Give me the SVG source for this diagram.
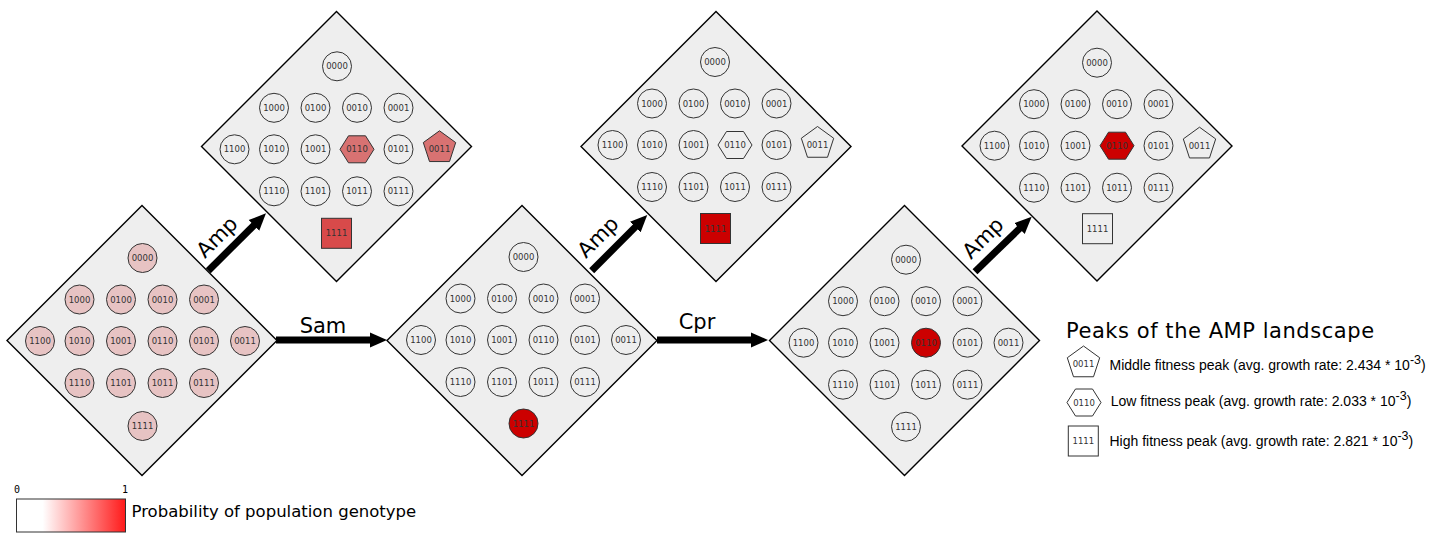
<svg xmlns="http://www.w3.org/2000/svg" xmlns:xlink="http://www.w3.org/1999/xlink" width="1444" height="534" viewBox="0 0 1444 534">
<style>
.dia{fill:#eeeeee;stroke:#000;stroke-width:1.4}
.gt{fill:none;stroke:#333;stroke-width:1}
.pk{fill:#e7c3c3}
.p2{fill:#d87272}
.p3{fill:#d84a4a}
.red{fill:#cc0000}
.wh{fill:#fff}
.lb{font-family:"DejaVu Sans",sans-serif;font-size:8.5px;fill:#333;text-anchor:middle}
.al{font-family:"DejaVu Sans",sans-serif;font-size:21px;fill:#000;text-anchor:middle}
.arr{stroke:#000;stroke-width:7;fill:none;marker-end:url(#ah)}
.lg{font-family:"Liberation Sans",Arial,sans-serif;font-size:14px;fill:#000}
.sup{font-size:12.5px}
</style>
<defs>
<marker id="ah" markerUnits="userSpaceOnUse" viewBox="0 0 17 16" markerWidth="17" markerHeight="16" refX="7" refY="8" orient="auto">
<path d="M0,0.5 L17,8 L0,15.5 Z" fill="#000"/>
</marker>
<polygon id="hex" points="-17,0 -8.5,-13.5 8.5,-13.5 17,0 8.5,13.5 -8.5,13.5"/>
<polygon id="pent" points="0,-18.5 16.2,-6.75 10,12.25 -10,12.25 -16.2,-6.75"/>
<rect id="sq" x="-15" y="-15" width="30" height="30"/>
<linearGradient id="cb" x1="0" y1="0" x2="1" y2="0">
<stop offset="0" stop-color="#ffffff"/>
<stop offset="0.24" stop-color="#ffffff"/>
<stop offset="1" stop-color="#ff1a1a"/>
</linearGradient>
</defs>

<g id="connectors">
<line class="arr" x1="208.3" y1="270.7" x2="258.9" y2="220.4"/>
<text class="al" transform="translate(222,242) rotate(-45)">Amp</text>
<line class="arr" x1="276" y1="340" x2="377" y2="340"/>
<text class="al" x="323" y="333">Sam</text>
<line class="arr" x1="591.7" y1="270.7" x2="640.2" y2="222.1"/>
<text class="al" transform="translate(603,242) rotate(-45)">Amp</text>
<line class="arr" x1="657" y1="340" x2="758" y2="340"/>
<text class="al" x="697" y="329">Cpr</text>
<line class="arr" x1="975" y1="271.7" x2="1024.5" y2="223.7"/>
<text class="al" transform="translate(988,243) rotate(-45)">Amp</text>
</g>

<!-- Landscape 1 -->
<g id="landscape-1" transform="translate(142,340.5)">
<polygon class="dia" points="0,-135 135,0 0,135 -135,0"/>
<g transform="translate(0,0.5)">
<g id="l1-0000"><circle class="gt pk" cx="0.5" cy="-83" r="14.5"/><text class="lb" x="0.5" y="-80">0000</text></g>
<g id="l1-1000"><circle class="gt pk" cx="-62.5" cy="-41.5" r="14.5"/><text class="lb" x="-62.5" y="-38.5">1000</text></g>
<g id="l1-0100"><circle class="gt pk" cx="-21" cy="-41.5" r="14.5"/><text class="lb" x="-21" y="-38.5">0100</text></g>
<g id="l1-0010"><circle class="gt pk" cx="20.5" cy="-41.5" r="14.5"/><text class="lb" x="20.5" y="-38.5">0010</text></g>
<g id="l1-0001"><circle class="gt pk" cx="62" cy="-41.5" r="14.5"/><text class="lb" x="62" y="-38.5">0001</text></g>
<g id="l1-1100"><circle class="gt pk" cx="-102" cy="0" r="14.5"/><text class="lb" x="-102" y="3">1100</text></g>
<g id="l1-1010"><circle class="gt pk" cx="-62.5" cy="0" r="14.5"/><text class="lb" x="-62.5" y="3">1010</text></g>
<g id="l1-1001"><circle class="gt pk" cx="-21" cy="0" r="14.5"/><text class="lb" x="-21" y="3">1001</text></g>
<g id="l1-0110"><circle class="gt pk" cx="20.5" cy="0" r="14.5"/><text class="lb" x="20.5" y="3">0110</text></g>
<g id="l1-0101"><circle class="gt pk" cx="62" cy="0" r="14.5"/><text class="lb" x="62" y="3">0101</text></g>
<g id="l1-0011"><circle class="gt pk" cx="103" cy="0" r="14.5"/><text class="lb" x="103" y="3">0011</text></g>
<g id="l1-1110"><circle class="gt pk" cx="-62.5" cy="42" r="14.5"/><text class="lb" x="-62.5" y="45">1110</text></g>
<g id="l1-1101"><circle class="gt pk" cx="-21" cy="42" r="14.5"/><text class="lb" x="-21" y="45">1101</text></g>
<g id="l1-1011"><circle class="gt pk" cx="20.5" cy="42" r="14.5"/><text class="lb" x="20.5" y="45">1011</text></g>
<g id="l1-0111"><circle class="gt pk" cx="62" cy="42" r="14.5"/><text class="lb" x="62" y="45">0111</text></g>
<g id="l1-1111"><circle class="gt pk" cx="0.5" cy="85" r="14.5"/><text class="lb" x="0.5" y="88">1111</text></g>
</g>
</g>

<!-- Landscape 2 -->
<g id="landscape-2" transform="translate(336.5,146.5)">
<polygon class="dia" points="0,-135 135,0 0,135 -135,0"/>
<g transform="translate(0,2.8)">
<g id="l2-0000"><circle class="gt" cx="0.5" cy="-83" r="14.5"/><text class="lb" x="0.5" y="-80">0000</text></g>
<g id="l2-1000"><circle class="gt" cx="-62.5" cy="-41.5" r="14.5"/><text class="lb" x="-62.5" y="-38.5">1000</text></g>
<g id="l2-0100"><circle class="gt" cx="-21" cy="-41.5" r="14.5"/><text class="lb" x="-21" y="-38.5">0100</text></g>
<g id="l2-0010"><circle class="gt" cx="20.5" cy="-41.5" r="14.5"/><text class="lb" x="20.5" y="-38.5">0010</text></g>
<g id="l2-0001"><circle class="gt" cx="62" cy="-41.5" r="14.5"/><text class="lb" x="62" y="-38.5">0001</text></g>
<g id="l2-1100"><circle class="gt" cx="-102" cy="0" r="14.5"/><text class="lb" x="-102" y="3">1100</text></g>
<g id="l2-1010"><circle class="gt" cx="-62.5" cy="0" r="14.5"/><text class="lb" x="-62.5" y="3">1010</text></g>
<g id="l2-1001"><circle class="gt" cx="-21" cy="0" r="14.5"/><text class="lb" x="-21" y="3">1001</text></g>
<g id="l2-0110"><use xlink:href="#hex" class="gt p2" x="20.5" y="0"/><text class="lb" x="20.5" y="3">0110</text></g>
<g id="l2-0101"><circle class="gt" cx="62" cy="0" r="14.5"/><text class="lb" x="62" y="3">0101</text></g>
<g id="l2-0011"><use xlink:href="#pent" class="gt p2" x="103" y="0"/><text class="lb" x="103" y="3">0011</text></g>
<g id="l2-1110"><circle class="gt" cx="-62.5" cy="42" r="14.5"/><text class="lb" x="-62.5" y="45">1110</text></g>
<g id="l2-1101"><circle class="gt" cx="-21" cy="42" r="14.5"/><text class="lb" x="-21" y="45">1101</text></g>
<g id="l2-1011"><circle class="gt" cx="20.5" cy="42" r="14.5"/><text class="lb" x="20.5" y="45">1011</text></g>
<g id="l2-0111"><circle class="gt" cx="62" cy="42" r="14.5"/><text class="lb" x="62" y="45">0111</text></g>
<g id="l2-1111"><use xlink:href="#sq" class="gt p3" x="0" y="84"/><text class="lb" x="0" y="87">1111</text></g>
</g>
</g>

<!-- Landscape 3 -->
<g id="landscape-3" transform="translate(522,340.5)">
<polygon class="dia" points="0,-135 135,0 0,135 -135,0"/>
<g transform="translate(1,-0.5)">
<g id="l3-0000"><circle class="gt" cx="0.5" cy="-83" r="14.5"/><text class="lb" x="0.5" y="-80">0000</text></g>
<g id="l3-1000"><circle class="gt" cx="-62.5" cy="-41.5" r="14.5"/><text class="lb" x="-62.5" y="-38.5">1000</text></g>
<g id="l3-0100"><circle class="gt" cx="-21" cy="-41.5" r="14.5"/><text class="lb" x="-21" y="-38.5">0100</text></g>
<g id="l3-0010"><circle class="gt" cx="20.5" cy="-41.5" r="14.5"/><text class="lb" x="20.5" y="-38.5">0010</text></g>
<g id="l3-0001"><circle class="gt" cx="62" cy="-41.5" r="14.5"/><text class="lb" x="62" y="-38.5">0001</text></g>
<g id="l3-1100"><circle class="gt" cx="-102" cy="0" r="14.5"/><text class="lb" x="-102" y="3">1100</text></g>
<g id="l3-1010"><circle class="gt" cx="-62.5" cy="0" r="14.5"/><text class="lb" x="-62.5" y="3">1010</text></g>
<g id="l3-1001"><circle class="gt" cx="-21" cy="0" r="14.5"/><text class="lb" x="-21" y="3">1001</text></g>
<g id="l3-0110"><circle class="gt" cx="20.5" cy="0" r="14.5"/><text class="lb" x="20.5" y="3">0110</text></g>
<g id="l3-0101"><circle class="gt" cx="62" cy="0" r="14.5"/><text class="lb" x="62" y="3">0101</text></g>
<g id="l3-0011"><circle class="gt" cx="103" cy="0" r="14.5"/><text class="lb" x="103" y="3">0011</text></g>
<g id="l3-1110"><circle class="gt" cx="-62.5" cy="42" r="14.5"/><text class="lb" x="-62.5" y="45">1110</text></g>
<g id="l3-1101"><circle class="gt" cx="-21" cy="42" r="14.5"/><text class="lb" x="-21" y="45">1101</text></g>
<g id="l3-1011"><circle class="gt" cx="20.5" cy="42" r="14.5"/><text class="lb" x="20.5" y="45">1011</text></g>
<g id="l3-0111"><circle class="gt" cx="62" cy="42" r="14.5"/><text class="lb" x="62" y="45">0111</text></g>
<g id="l3-1111"><circle class="gt red" cx="0.5" cy="83.5" r="14.5"/><text class="lb" x="0.5" y="86.5">1111</text></g>
</g>
</g>

<!-- Landscape 4 -->
<g id="landscape-4" transform="translate(716,146.5)">
<polygon class="dia" points="0,-135 135,0 0,135 -135,0"/>
<g transform="translate(-1.5,-1.5)">
<g id="l4-0000"><circle class="gt" cx="0.5" cy="-83" r="14.5"/><text class="lb" x="0.5" y="-80">0000</text></g>
<g id="l4-1000"><circle class="gt" cx="-62.5" cy="-41.5" r="14.5"/><text class="lb" x="-62.5" y="-38.5">1000</text></g>
<g id="l4-0100"><circle class="gt" cx="-21" cy="-41.5" r="14.5"/><text class="lb" x="-21" y="-38.5">0100</text></g>
<g id="l4-0010"><circle class="gt" cx="20.5" cy="-41.5" r="14.5"/><text class="lb" x="20.5" y="-38.5">0010</text></g>
<g id="l4-0001"><circle class="gt" cx="62" cy="-41.5" r="14.5"/><text class="lb" x="62" y="-38.5">0001</text></g>
<g id="l4-1100"><circle class="gt" cx="-102" cy="0" r="14.5"/><text class="lb" x="-102" y="3">1100</text></g>
<g id="l4-1010"><circle class="gt" cx="-62.5" cy="0" r="14.5"/><text class="lb" x="-62.5" y="3">1010</text></g>
<g id="l4-1001"><circle class="gt" cx="-21" cy="0" r="14.5"/><text class="lb" x="-21" y="3">1001</text></g>
<g id="l4-0110"><use xlink:href="#hex" class="gt" x="20.5" y="0"/><text class="lb" x="20.5" y="3">0110</text></g>
<g id="l4-0101"><circle class="gt" cx="62" cy="0" r="14.5"/><text class="lb" x="62" y="3">0101</text></g>
<g id="l4-0011"><use xlink:href="#pent" class="gt" x="103" y="0"/><text class="lb" x="103" y="3">0011</text></g>
<g id="l4-1110"><circle class="gt" cx="-62.5" cy="42" r="14.5"/><text class="lb" x="-62.5" y="45">1110</text></g>
<g id="l4-1101"><circle class="gt" cx="-21" cy="42" r="14.5"/><text class="lb" x="-21" y="45">1101</text></g>
<g id="l4-1011"><circle class="gt" cx="20.5" cy="42" r="14.5"/><text class="lb" x="20.5" y="45">1011</text></g>
<g id="l4-0111"><circle class="gt" cx="62" cy="42" r="14.5"/><text class="lb" x="62" y="45">0111</text></g>
<g id="l4-1111"><use xlink:href="#sq" class="gt red" x="1" y="83.5"/><text class="lb" x="1" y="86.5">1111</text></g>
</g>
</g>

<!-- Landscape 5 -->
<g id="landscape-5" transform="translate(904.5,340.5)">
<polygon class="dia" points="0,-135 135,0 0,135 -135,0"/>
<g transform="translate(1,2.2)">
<g id="l5-0000"><circle class="gt" cx="0.5" cy="-83" r="14.5"/><text class="lb" x="0.5" y="-80">0000</text></g>
<g id="l5-1000"><circle class="gt" cx="-62.5" cy="-41.5" r="14.5"/><text class="lb" x="-62.5" y="-38.5">1000</text></g>
<g id="l5-0100"><circle class="gt" cx="-21" cy="-41.5" r="14.5"/><text class="lb" x="-21" y="-38.5">0100</text></g>
<g id="l5-0010"><circle class="gt" cx="20.5" cy="-41.5" r="14.5"/><text class="lb" x="20.5" y="-38.5">0010</text></g>
<g id="l5-0001"><circle class="gt" cx="62" cy="-41.5" r="14.5"/><text class="lb" x="62" y="-38.5">0001</text></g>
<g id="l5-1100"><circle class="gt" cx="-102" cy="0" r="14.5"/><text class="lb" x="-102" y="3">1100</text></g>
<g id="l5-1010"><circle class="gt" cx="-62.5" cy="0" r="14.5"/><text class="lb" x="-62.5" y="3">1010</text></g>
<g id="l5-1001"><circle class="gt" cx="-21" cy="0" r="14.5"/><text class="lb" x="-21" y="3">1001</text></g>
<g id="l5-0110"><circle class="gt red" cx="20.5" cy="0" r="14.5"/><text class="lb" x="20.5" y="3">0110</text></g>
<g id="l5-0101"><circle class="gt" cx="62" cy="0" r="14.5"/><text class="lb" x="62" y="3">0101</text></g>
<g id="l5-0011"><circle class="gt" cx="103" cy="0" r="14.5"/><text class="lb" x="103" y="3">0011</text></g>
<g id="l5-1110"><circle class="gt" cx="-62.5" cy="42" r="14.5"/><text class="lb" x="-62.5" y="45">1110</text></g>
<g id="l5-1101"><circle class="gt" cx="-21" cy="42" r="14.5"/><text class="lb" x="-21" y="45">1101</text></g>
<g id="l5-1011"><circle class="gt" cx="20.5" cy="42" r="14.5"/><text class="lb" x="20.5" y="45">1011</text></g>
<g id="l5-0111"><circle class="gt" cx="62" cy="42" r="14.5"/><text class="lb" x="62" y="45">0111</text></g>
<g id="l5-1111"><circle class="gt" cx="0.5" cy="84" r="14.5"/><text class="lb" x="0.5" y="87">1111</text></g>
</g>
</g>

<!-- Landscape 6 -->
<g id="landscape-6" transform="translate(1097,146)">
<polygon class="dia" points="0,-135 135,0 0,135 -135,0"/>
<g transform="translate(-0.5,-0.3)">
<g id="l6-0000"><circle class="gt" cx="0.5" cy="-83" r="14.5"/><text class="lb" x="0.5" y="-80">0000</text></g>
<g id="l6-1000"><circle class="gt" cx="-62.5" cy="-41.5" r="14.5"/><text class="lb" x="-62.5" y="-38.5">1000</text></g>
<g id="l6-0100"><circle class="gt" cx="-21" cy="-41.5" r="14.5"/><text class="lb" x="-21" y="-38.5">0100</text></g>
<g id="l6-0010"><circle class="gt" cx="20.5" cy="-41.5" r="14.5"/><text class="lb" x="20.5" y="-38.5">0010</text></g>
<g id="l6-0001"><circle class="gt" cx="62" cy="-41.5" r="14.5"/><text class="lb" x="62" y="-38.5">0001</text></g>
<g id="l6-1100"><circle class="gt" cx="-102" cy="0" r="14.5"/><text class="lb" x="-102" y="3">1100</text></g>
<g id="l6-1010"><circle class="gt" cx="-62.5" cy="0" r="14.5"/><text class="lb" x="-62.5" y="3">1010</text></g>
<g id="l6-1001"><circle class="gt" cx="-21" cy="0" r="14.5"/><text class="lb" x="-21" y="3">1001</text></g>
<g id="l6-0110"><use xlink:href="#hex" class="gt red" x="20.5" y="0"/><text class="lb" x="20.5" y="3">0110</text></g>
<g id="l6-0101"><circle class="gt" cx="62" cy="0" r="14.5"/><text class="lb" x="62" y="3">0101</text></g>
<g id="l6-0011"><use xlink:href="#pent" class="gt" x="103" y="0"/><text class="lb" x="103" y="3">0011</text></g>
<g id="l6-1110"><circle class="gt" cx="-62.5" cy="42" r="14.5"/><text class="lb" x="-62.5" y="45">1110</text></g>
<g id="l6-1101"><circle class="gt" cx="-21" cy="42" r="14.5"/><text class="lb" x="-21" y="45">1101</text></g>
<g id="l6-1011"><circle class="gt" cx="20.5" cy="42" r="14.5"/><text class="lb" x="20.5" y="45">1011</text></g>
<g id="l6-0111"><circle class="gt" cx="62" cy="42" r="14.5"/><text class="lb" x="62" y="45">0111</text></g>
<g id="l6-1111"><use xlink:href="#sq" class="gt" x="1" y="83"/><text class="lb" x="1" y="86">1111</text></g>
</g>
</g>

<!-- Legend: peaks -->
<g id="legend-peaks">
<text x="1066" y="338" font-family="DejaVu Sans, sans-serif" font-size="21" letter-spacing="0.55" fill="#000">Peaks of the AMP landscape</text>
<g id="leg-middle">
<use xlink:href="#pent" class="gt wh" x="1083.5" y="364.5"/><text class="lb" x="1083.5" y="367">0011</text>
<text class="lg" x="1109.5" y="370">Middle fitness peak (avg. growth rate: 2.434 * 10<tspan class="sup" dy="-6">-3</tspan><tspan dy="6">)</tspan></text>
</g>
<g id="leg-low">
<use xlink:href="#hex" class="gt wh" x="1084" y="402.5"/><text class="lb" x="1084" y="405.5">0110</text>
<text class="lg" x="1110.7" y="406">Low fitness peak (avg. growth rate: 2.033 * 10<tspan class="sup" dy="-6">-3</tspan><tspan dy="6">)</tspan></text>
</g>
<g id="leg-high">
<use xlink:href="#sq" class="gt wh" x="1083.3" y="441"/><text class="lb" x="1083.3" y="444">1111</text>
<text class="lg" x="1109.5" y="446">High fitness peak (avg. growth rate: 2.821 * 10<tspan class="sup" dy="-6">-3</tspan><tspan dy="6">)</tspan></text>
</g>
</g>

<!-- Legend: colour bar -->
<g id="legend-colorbar">
<rect x="16.5" y="499" width="109" height="33" fill="url(#cb)" stroke="#333" stroke-width="1"/>
<text x="17" y="493" font-family="DejaVu Sans Mono, monospace" font-size="10" fill="#000" text-anchor="middle">0</text>
<text x="125" y="493" font-family="DejaVu Sans Mono, monospace" font-size="10" fill="#000" text-anchor="middle">1</text>
<text x="131.5" y="517" font-family="DejaVu Sans, sans-serif" font-size="16.5" fill="#000">Probability of population genotype</text>
</g>
</svg>
